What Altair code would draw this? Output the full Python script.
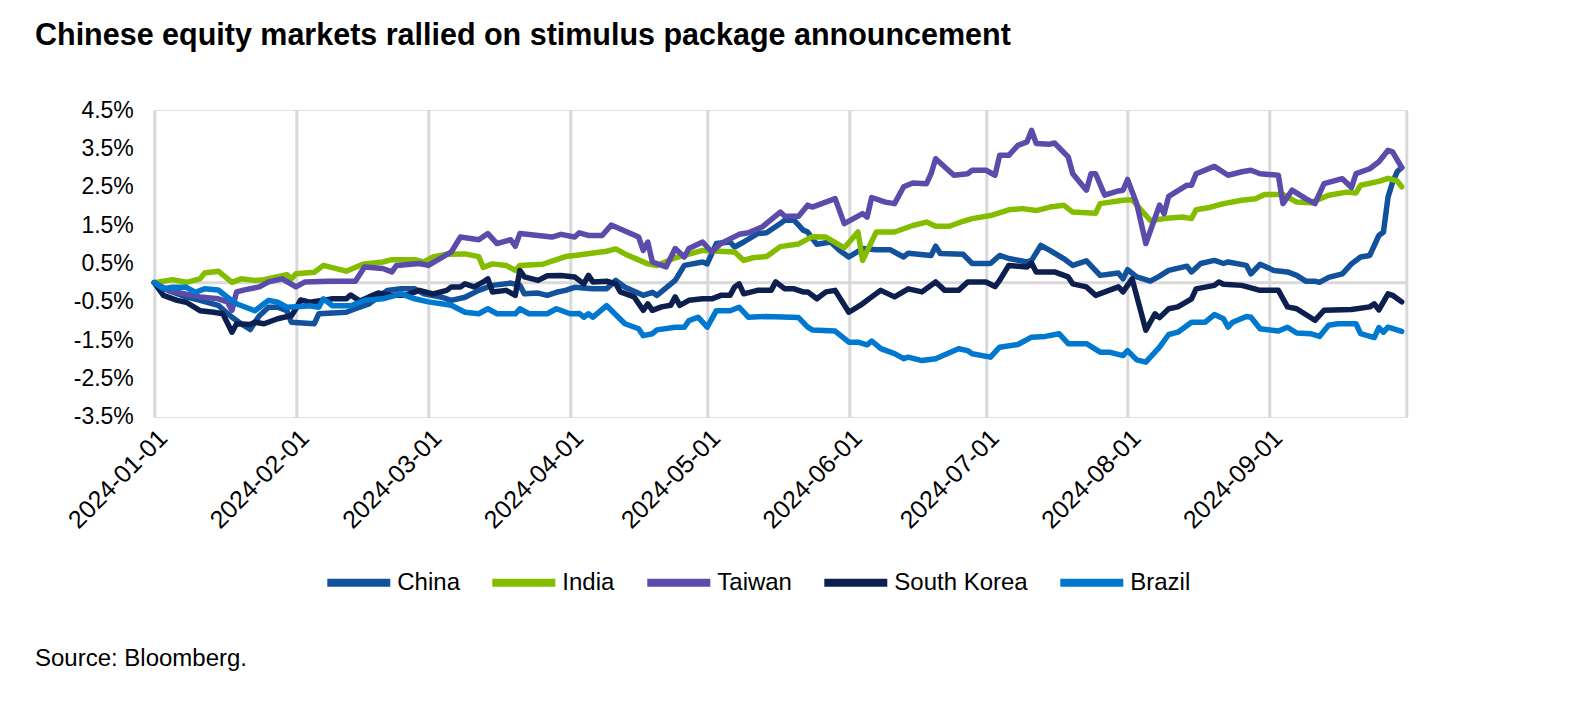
import altair as alt
import pandas as pd

TITLE = "Chinese equity markets rallied on stimulus package announcement"
SOURCE = "Source: Bloomberg."
FONT = "Liberation Sans, Arial, sans-serif"

markets = ["China", "India", "Taiwan", "South Korea", "Brazil"]
colors = ["#12519B", "#84BD00", "#5B4BAA", "#0C1F4F", "#0078CF"]

# day offsets from 2024-01-01 and cumulative performance (%)
china_days = [0, 3, 7, 10, 14, 17, 19, 21, 23, 25, 27, 29, 30, 35, 36, 42, 44, 47, 51, 54, 57, 59, 63, 65,
              68, 71, 74, 78, 80, 81, 84, 86, 88, 90, 92, 96, 99, 101, 103, 107, 109, 110, 114, 116, 120,
              121, 123, 126, 127, 129, 132, 134, 137, 138, 140, 142, 143, 145, 148, 150, 152, 155, 158,
              161, 164, 165, 170, 171, 172, 177, 179, 183, 185, 187, 191, 192, 194, 196, 199, 201, 204,
              207, 211, 212, 213, 215, 218, 220, 222, 226, 227, 229, 232, 234, 235, 239, 240, 242, 245,
              248, 250, 252, 254, 255, 257, 260, 262, 264, 266, 268, 269, 270, 271, 272, 273]
china_vals = [0, -0.2, -0.37, -0.46, -0.59, -0.9, -1.07, -1.22, -0.86, -0.64, -0.64, -0.73, -1.03, -1.07,
              -0.81, -0.77, -0.68, -0.55, -0.2, -0.16, -0.16, -0.29, -0.38, -0.46, -0.38, -0.2, -0.07,
              -0.01, -0.07, -0.29, -0.27, -0.33, -0.25, -0.2, -0.12, -0.16, -0.16, 0.06, -0.12, -0.33,
              -0.25, -0.33, 0.06, 0.45, 0.54, 0.49, 1.02, 1.06, 0.93, 1.06, 1.28, 1.3, 1.54, 1.63, 1.63,
              1.37, 1.32, 1.0, 1.06, 0.84, 0.67, 0.89, 0.86, 0.86, 0.67, 0.77, 0.71, 0.95, 0.76, 0.74,
              0.5, 0.5, 0.71, 0.63, 0.54, 0.58, 0.97, 0.84, 0.63, 0.45, 0.57, 0.19, 0.25, 0.1, 0.34,
              0.15, 0.04, 0.17, 0.32, 0.43, 0.28, 0.5, 0.58, 0.5, 0.54, 0.45, 0.23, 0.48, 0.32, 0.28,
              0.19, 0.04, 0.04, 0.01, 0.14, 0.23, 0.49, 0.67, 0.71, 1.23, 1.32, 2.23, 2.62, 2.89, 3.0]

india_days = [0, 4, 7, 10, 11, 14, 17, 19, 22, 24, 29, 30, 31, 35, 37, 42, 45, 46, 50, 52, 57, 59, 61, 64,
              68, 71, 72, 74, 77, 79, 80, 85, 88, 90, 92, 99, 101, 103, 108, 110, 114, 120, 127, 129,
              131, 134, 137, 141, 144, 147, 151, 154, 155, 158, 162, 166, 169, 171, 174, 177, 179, 183,
              187, 190, 193, 196, 199, 201, 206, 207, 212, 214, 218, 221, 225, 227, 228, 231, 234, 238,
              241, 243, 247, 250, 253, 257, 261, 263, 264, 268, 270, 272, 273]
india_vals = [0, 0.08, 0.01, 0.1, 0.25, 0.3, 0.01, 0.1, 0.06, 0.08, 0.21, 0.1, 0.23, 0.27, 0.45, 0.3,
              0.45, 0.49, 0.54, 0.6, 0.6, 0.54, 0.67, 0.74, 0.75, 0.68, 0.4, 0.49, 0.45, 0.32, 0.45,
              0.48, 0.6, 0.68, 0.71, 0.82, 0.88, 0.75, 0.49, 0.45, 0.65, 0.84, 0.8, 0.58, 0.65, 0.68,
              0.94, 1.01, 1.2, 1.19, 0.91, 1.32, 0.58, 1.32, 1.32, 1.49, 1.58, 1.47, 1.47, 1.6, 1.67,
              1.75, 1.9, 1.93, 1.88, 1.97, 2.02, 1.84, 1.81, 2.06, 2.15, 2.16, 1.62, 1.67, 1.71, 1.67,
              1.9, 1.96, 2.06, 2.15, 2.19, 2.3, 2.3, 2.1, 2.08, 2.28, 2.36, 2.34, 2.54, 2.64, 2.72,
              2.65, 2.5]

taiwan_days = [0, 3, 7, 10, 14, 16, 17, 18, 20, 23, 25, 28, 31, 33, 38, 44, 46, 50, 52, 53, 58, 60, 65,
               67, 71, 73, 75, 78, 79, 80, 87, 89, 92, 93, 95, 98, 100, 101, 106, 107, 108, 109, 112,
               114, 116, 117, 120, 122, 124, 128, 130, 133, 137, 138, 141, 143, 144, 149, 151, 155, 156,
               157, 160, 162, 164, 166, 169, 170, 171, 175, 178, 179, 182, 184, 185, 187, 189, 191, 192,
               193, 196, 197, 200, 201, 204, 205, 206, 208, 211, 212, 213, 215, 217, 220, 221, 222, 226,
               227, 228, 232, 235, 238, 240, 242, 246, 247, 249, 252, 254, 256, 260, 262, 263, 266, 268,
               270, 271, 273]
taiwan_vals = [0, -0.2, -0.3, -0.37, -0.42, -0.5, -0.72, -0.24, -0.18, -0.11, 0.02, 0.1, -0.11, 0.02,
               0.04, 0.04, 0.41, 0.37, 0.28, 0.45, 0.5, 0.45, 0.8, 1.19, 1.12, 1.28, 1.02, 1.12, 0.95,
               1.28, 1.19, 1.26, 1.19, 1.3, 1.23, 1.23, 1.5, 1.45, 1.19, 0.84, 1.06, 0.54, 0.41, 0.89,
               0.67, 0.89, 1.06, 0.8, 1.02, 1.26, 1.3, 1.45, 1.84, 1.73, 1.73, 2.02, 1.97, 2.19, 1.54,
               1.8, 1.71, 2.22, 2.1, 2.06, 2.5, 2.6, 2.58, 2.84, 3.23, 2.8, 2.84, 2.93, 2.93, 2.8, 3.32,
               3.32, 3.58, 3.67, 3.97, 3.63, 3.61, 3.64, 3.28, 2.84, 2.41, 2.84, 2.84, 2.28, 2.39, 2.41,
               2.69, 2.06, 1.02, 2.02, 1.8, 2.25, 2.54, 2.54, 2.84, 3.03, 2.8, 2.89, 2.93, 2.84, 2.8,
               2.06, 2.41, 2.19, 2.06, 2.58, 2.71, 2.48, 2.84, 2.97, 3.15, 3.45, 3.41, 3.0]

korea_days = [0, 2, 5, 7, 10, 13, 15, 17, 18, 21, 22, 24, 27, 30, 31, 32, 34, 37, 39, 42, 43, 45, 47, 49,
              52, 55, 58, 61, 64, 65, 67, 68, 70, 72, 73, 74, 77, 79, 80, 81, 84, 86, 89, 92, 94, 95, 96,
              99, 101, 102, 105, 107, 108, 109, 111, 113, 114, 115, 117, 120, 122, 124, 126, 127, 128,
              129, 132, 135, 136, 138, 140, 142, 143, 145, 147, 149, 152, 155, 157, 159, 162, 165, 168,
              171, 173, 176, 178, 182, 184, 185, 187, 191, 192, 193, 197, 200, 201, 204, 206, 211, 212,
              214, 217, 219, 220, 222, 224, 227, 228, 232, 233, 234, 238, 242, 246, 248, 250, 254, 256,
              262, 266, 267, 268, 270, 271, 273]
korea_vals = [0, -0.33, -0.46, -0.51, -0.73, -0.77, -0.81, -1.29, -1.07, -1.09, -1.03, -1.07, -0.94,
              -0.86, -0.68, -0.45, -0.51, -0.46, -0.42, -0.42, -0.32, -0.48, -0.37, -0.27, -0.33, -0.33,
              -0.2, -0.29, -0.2, -0.11, -0.11, -0.03, -0.11, 0.02, 0.1, -0.24, -0.2, -0.33, 0.32, 0.15,
              0.06, 0.18, 0.19, 0.15, -0.03, 0.19, 0.02, 0.04, -0.03, -0.24, -0.37, -0.72, -0.55, -0.72,
              -0.63, -0.59, -0.37, -0.59, -0.46, -0.42, -0.42, -0.33, -0.33, -0.11, -0.03, -0.29, -0.2,
              -0.2, 0.02, -0.16, -0.16, -0.24, -0.24, -0.42, -0.24, -0.2, -0.77, -0.55, -0.37, -0.2,
              -0.37, -0.16, -0.24, 0.02, -0.2, -0.2, 0.02, 0.02, -0.1, 0.06, 0.45, 0.41, 0.51, 0.28,
              0.28, 0.15, -0.03, -0.11, -0.33, -0.11, -0.24, 0.1, -1.24, -0.81, -0.91, -0.68, -0.63,
              -0.42, -0.16, -0.07, 0.02, -0.04, -0.07, -0.2, -0.2, -0.63, -0.68, -0.98, -0.72, -0.7,
              -0.63, -0.55, -0.71, -0.29, -0.33, -0.5]

brazil_days = [0, 2, 4, 7, 9, 11, 14, 16, 18, 20, 22, 24, 25, 27, 29, 32, 34, 36, 37, 39, 43, 46, 50, 54,
               57, 60, 65, 68, 71, 73, 75, 79, 80, 82, 86, 88, 91, 93, 94, 95, 96, 99, 103, 106, 107,
               109, 110, 114, 116, 117, 119, 121, 123, 126, 128, 130, 134, 141, 143, 144, 149, 152, 154,
               156, 157, 159, 162, 164, 165, 168, 171, 176, 178, 179, 183, 185, 189, 192, 195, 198, 200,
               204, 207, 209, 212, 213, 215, 217, 220, 222, 224, 227, 230, 232, 234, 235, 236, 239, 240,
               242, 246, 248, 250, 253, 255, 257, 259, 263, 264, 267, 268, 269, 270, 273]
brazil_vals = [0, -0.16, -0.12, -0.12, -0.25, -0.16, -0.19, -0.38, -0.55, -0.64, -0.73, -0.55, -0.46,
               -0.51, -0.64, -0.62, -0.6, -0.64, -0.42, -0.6, -0.6, -0.46, -0.42, -0.29, -0.42, -0.5,
               -0.59, -0.77, -0.81, -0.68, -0.81, -0.81, -0.68, -0.81, -0.81, -0.68, -0.81, -0.8, -0.9,
               -0.81, -0.9, -0.6, -1.07, -1.2, -1.38, -1.33, -1.23, -1.16, -1.16, -0.99, -0.9, -1.16,
               -0.73, -0.73, -0.64, -0.9, -0.88, -0.91, -1.16, -1.23, -1.26, -1.55, -1.55, -1.62, -1.52,
               -1.72, -1.85, -1.98, -1.94, -2.03, -1.98, -1.72, -1.77, -1.85, -1.94, -1.68, -1.61, -1.42,
               -1.4, -1.33, -1.59, -1.59, -1.81, -1.81, -1.9, -1.77, -2.01, -2.07, -1.68, -1.35, -1.29,
               -1.03, -1.03, -0.83, -0.94, -1.16, -1.03, -0.88, -0.9, -1.2, -1.26, -1.16, -1.31, -1.33,
               -1.4, -1.11, -1.07, -1.07, -1.33, -1.43, -1.17, -1.29, -1.16, -1.27]

y_ticks = [-3.5, -2.5, -1.5, -0.5, 0.5, 1.5, 2.5, 3.5, 4.5]
month_ticks = [alt.DateTime(year=2024, month=m, date=1) for m in range(1, 11)]

series = [
    ("China", china_days, china_vals),
    ("India", india_days, india_vals),
    ("Taiwan", taiwan_days, taiwan_vals),
    ("South Korea", korea_days, korea_vals),
    ("Brazil", brazil_days, brazil_vals),
]
base = pd.Timestamp("2024-01-01")
rows = []
for name, days, vals in series:
    for d, v in zip(days, vals):
        rows.append({
            "market": name,
            "date": (base + pd.Timedelta(days=d)).strftime("%Y-%m-%dT00:00:00"),
            "value": v,
        })
df = pd.DataFrame(rows)

x_enc = alt.X(
    "date:T",
    scale=alt.Scale(domain=[alt.DateTime(year=2024, month=1, date=1),
                            alt.DateTime(year=2024, month=10, date=1)]),
    axis=alt.Axis(
        values=month_ticks,
        labelExpr="month(datum.value) == 9 ? '' : timeFormat(datum.value, '%Y-%m-%d')",
        labelAngle=-45, labelAlign="right", labelBaseline="top",
        labelFontSize=25, labelFont=FONT, labelColor="black", labelPadding=8,
        labelOverlap=False,
        grid=True, gridColor="#D9D9D9", gridWidth=3,
        domain=False, ticks=False, title=None,
    ),
)
y_axis = alt.Axis(
    values=y_ticks,
    labelExpr="(datum.value < 0 ? '-' : '') + format(abs(datum.value), '.1f') + '%'",
    labelFontSize=23, labelFont=FONT, labelColor="black", labelPadding=21,
    labelOverlap=False, labelBound=False, labelFlush=False,
    grid=False, domain=False, ticks=False, title=None,
)
y_scale = alt.Scale(domain=[-3.5, 4.5], nice=False, zero=False)

zero = alt.Chart(pd.DataFrame({"value": [0.0]})).mark_rule(
    color="#D9D9D9", strokeWidth=3
).encode(y=alt.Y("value:Q", scale=y_scale, axis=y_axis))

lines = alt.Chart(df).mark_line(
    strokeWidth=5.5, strokeJoin="round", strokeCap="round"
).encode(
    x=x_enc,
    y=alt.Y("value:Q", scale=y_scale, axis=y_axis),
    color=alt.Color(
        "market:N",
        scale=alt.Scale(domain=markets, range=colors),
        sort=markets,
        legend=alt.Legend(
            title=None, orient="none", legendX=169, legendY=437,
            direction="horizontal", columns=5,
            symbolType="stroke", symbolStrokeWidth=8, symbolSize=3969,
            labelFontSize=24, labelFont=FONT, labelColor="black",
            labelOffset=3, columnPadding=16, padding=0,
        ),
    ),
)

source = alt.Chart(pd.DataFrame({"t": [SOURCE]})).mark_text(
    align="left", baseline="alphabetic", fontSize=24, font=FONT, color="black"
).encode(text="t:N", x=alt.value(-119.3), y=alt.value(556))

chart = alt.layer(zero, lines, source).properties(
    width=1252,
    height=307,
    autosize=alt.AutoSizeParams(type="none"),
    padding={"left": 146.3, "top": 102, "right": 20, "bottom": 270},
    title=alt.Title(
        TITLE, anchor="start", frame="group", dx=-119.3, offset=48,
        fontSize=30.5, font=FONT, fontWeight="bold", color="black",
    ),
).configure_view(stroke=None).configure_axis(labelOverlap=False).configure(background="white")

chart.save("out.html", embed_options={"renderer": "svg", "actions": False})
